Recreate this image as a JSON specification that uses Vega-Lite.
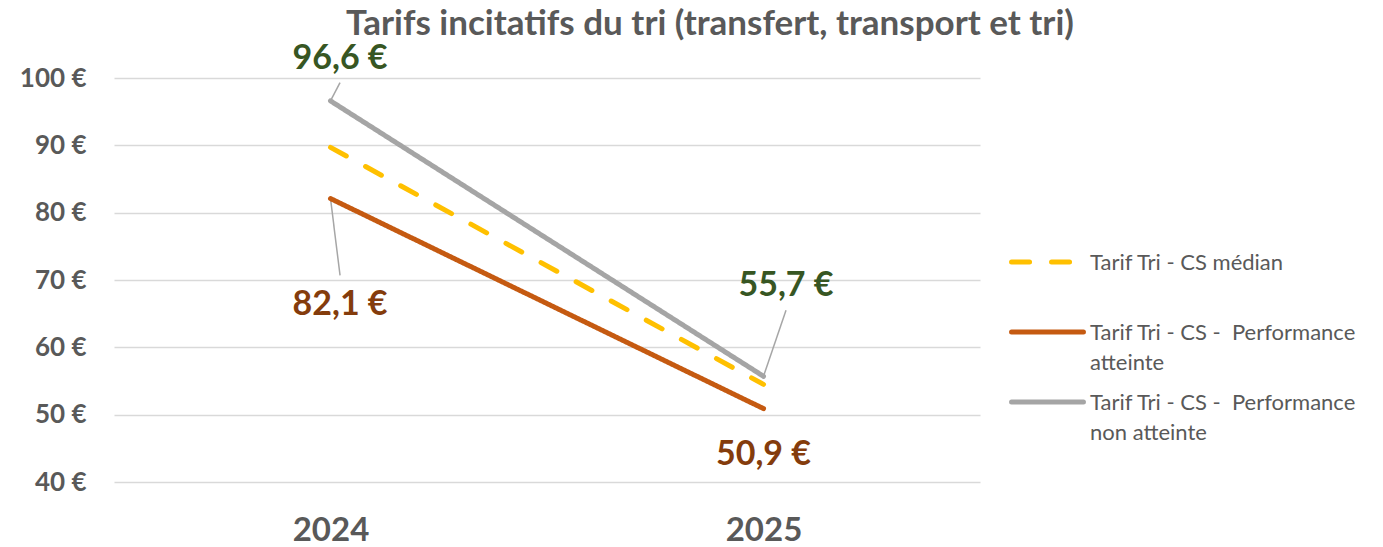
{
  "$schema": "https://vega.github.io/schema/vega-lite/v6.json",
  "width": 866,
  "height": 404,
  "autosize": "none",
  "padding": {"left": 114, "top": 78, "right": 403, "bottom": 65},
  "background": "white",
  "title": {
    "text": "Tarifs incitatifs du tri (transfert, transport et tri)",
    "font": "Lato",
    "fontSize": 35,
    "fontWeight": "bold",
    "color": "#595959",
    "anchor": "middle",
    "frame": "group",
    "dx": 163,
    "offset": 0
  },
  "config": {
    "view": {"stroke": null},
    "font": "Lato"
  },
  "datasets": {
    "series": [
      {"serie": "\u00a0Tarif Tri - CS médian|\u00a0", "year": 2024, "value": 89.7},
      {"serie": "\u00a0Tarif Tri - CS médian|\u00a0", "year": 2025, "value": 54.5},
      {"serie": "\u00a0Tarif Tri - CS -\u00a0\u00a0Performance|atteinte", "year": 2024, "value": 82.1},
      {"serie": "\u00a0Tarif Tri - CS -\u00a0\u00a0Performance|atteinte", "year": 2025, "value": 50.9},
      {"serie": "\u00a0Tarif Tri - CS -\u00a0\u00a0Performance|non atteinte", "year": 2024, "value": 96.6},
      {"serie": "\u00a0Tarif Tri - CS -\u00a0\u00a0Performance|non atteinte", "year": 2025, "value": 55.7}
    ],
    "leaders": [
      {"id": "a", "x": 2024.0, "y": 96.6},
      {"id": "a", "x": 2024.022, "y": 99.3},
      {"id": "b", "x": 2024.0, "y": 82.1},
      {"id": "b", "x": 2024.022, "y": 70.7},
      {"id": "c", "x": 2025.0, "y": 55.7},
      {"id": "c", "x": 2025.052, "y": 65.5}
    ],
    "labels": [
      {"text": "96,6 €", "group": "non atteinte", "x": 2024.022, "y": 102.85},
      {"text": "55,7 €", "group": "non atteinte", "x": 2025.052, "y": 69.1},
      {"text": "82,1 €", "group": "atteinte", "x": 2024.022, "y": 66.25},
      {"text": "50,9 €", "group": "atteinte", "x": 2025.0, "y": 44.0}
    ]
  },
  "layer": [
    {
      "data": {"name": "leaders"},
      "mark": {"type": "line", "color": "#a6a6a6", "strokeWidth": 1.5, "clip": false},
      "encoding": {
        "x": {"field": "x", "type": "quantitative", "scale": {"domain": [2023.5, 2025.5], "nice": false, "zero": false}},
        "y": {"field": "y", "type": "quantitative", "scale": {"domain": [40, 100], "nice": false, "zero": false}},
        "detail": {"field": "id"}
      }
    },
    {
      "data": {"name": "series"},
      "mark": {"type": "line", "strokeWidth": 5, "strokeCap": "round", "clip": false},
      "encoding": {
        "x": {
          "field": "year", "type": "quantitative",
          "scale": {"domain": [2023.5, 2025.5], "nice": false, "zero": false},
          "axis": {
            "values": [2024, 2025], "format": "d", "title": null,
            "grid": false, "domain": false, "ticks": false,
            "labelFont": "Lato", "labelFontSize": 33, "labelFontWeight": "bold",
            "labelColor": "#595959", "labelPadding": 32
          }
        },
        "y": {
          "field": "value", "type": "quantitative",
          "scale": {"domain": [40, 100], "nice": false, "zero": false},
          "axis": {
            "values": [40, 50, 60, 70, 80, 90, 100],
            "labelExpr": "datum.value + ' €'",
            "title": null, "domain": false, "ticks": false,
            "gridColor": "#d9d9d9", "gridWidth": 1.5,
            "labelFont": "Lato", "labelFontSize": 26, "labelFontWeight": "bold",
            "labelColor": "#595959", "labelPadding": 28
          }
        },
        "color": {
          "field": "serie", "type": "nominal",
          "scale": {
            "domain": ["\u00a0Tarif Tri - CS médian|\u00a0", "\u00a0Tarif Tri - CS -\u00a0\u00a0Performance|atteinte", "\u00a0Tarif Tri - CS -\u00a0\u00a0Performance|non atteinte"],
            "range": ["#FFC000", "#C55A11", "#A5A5A5"]
          },
          "legend": {
            "title": null,
            "orient": "none",
            "legendX": 905.5,
            "legendY": 156,
            "padding": 0,
            "symbolType": "M-1.41,0H1.41",
            "symbolSize": 2601,
            "symbolStrokeWidth": 5,
            "rowPadding": 0,
            "labelOffset": 14.5,
            "labelFont": "Lato",
            "labelFontSize": 22,
            "labelColor": "#595959",
            "labelLimit": 400,
            "labelBaseline": "alphabetic",
            "labelExpr": "split(datum.label, '|')",
            "encode": {
              "labels": {"update": {"lineHeight": {"value": 30}, "dy": {"value": 8}}},
              "symbols": {"update": {"strokeCap": {"value": "round"}}}
            }
          }
        },
        "strokeDash": {
          "field": "serie", "type": "nominal",
          "scale": {
            "domain": ["\u00a0Tarif Tri - CS médian|\u00a0", "\u00a0Tarif Tri - CS -\u00a0\u00a0Performance|atteinte", "\u00a0Tarif Tri - CS -\u00a0\u00a0Performance|non atteinte"],
            "range": [[18, 22], [1, 0], [1, 0]]
          },
          "legend": null
        }
      }
    },
    {
      "data": {"name": "labels"},
      "transform": [{"filter": "datum.group == 'non atteinte'"}],
      "mark": {"type": "text", "font": "Lato", "fontSize": 34, "fontWeight": "bold", "color": "#375623", "clip": false},
      "encoding": {
        "x": {"field": "x", "type": "quantitative"},
        "y": {"field": "y", "type": "quantitative"},
        "text": {"field": "text"}
      }
    },
    {
      "data": {"name": "labels"},
      "transform": [{"filter": "datum.group == 'atteinte'"}],
      "mark": {"type": "text", "font": "Lato", "fontSize": 34, "fontWeight": "bold", "color": "#843C0C", "clip": false},
      "encoding": {
        "x": {"field": "x", "type": "quantitative"},
        "y": {"field": "y", "type": "quantitative"},
        "text": {"field": "text"}
      }
    }
  ]
}
